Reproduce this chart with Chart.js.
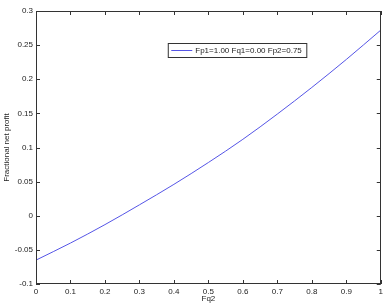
<!DOCTYPE html>
<html>
<head>
<meta charset="utf-8">
<script src="https://cdn.jsdelivr.net/npm/chart.js@4"></script>
<style>
  html, body { margin: 0; padding: 0; background: #fff; }
  #chart { display: block; }
</style>
</head>
<body>
<canvas id="chart" width="386" height="305"></canvas>
<script>
const fq2 = [0, 0.1, 0.2, 0.3, 0.4, 0.5, 0.6, 0.7, 0.8, 0.9, 1.0];
const netProfit = [-0.065, -0.040, -0.013, 0.016, 0.046, 0.078, 0.112, 0.149, 0.188, 0.229, 0.272];
const seriesLabel = 'Fp1=1.00 Fq1=0.00 Fp2=0.75';
const xTitle = 'Fq2';
const yTitle = 'Fractional net profit';

const fontFamily = '"Liberation Sans", Arial, sans-serif';
const inkColor = '#222';

function tidy(v) {
    return String(parseFloat(Number(v).toFixed(2)));
}

// matlab style box with inward ticks + legend box inside the axes
const axesBox = {
    id: 'axesBox',
    afterDraw(chart) {
        const ctx = chart.ctx;
        const area = chart.chartArea;
        const xs = chart.scales.x;
        const ys = chart.scales.y;
        const len = 4;
        ctx.save();
        ctx.strokeStyle = '#333';
        ctx.lineWidth = 1;
        ctx.beginPath();
        xs.ticks.forEach(t => {
            const px = Math.round(xs.getPixelForValue(t.value)) + 0.5;
            ctx.moveTo(px, area.bottom);
            ctx.lineTo(px, area.bottom - len);
            ctx.moveTo(px, area.top);
            ctx.lineTo(px, area.top + len);
        });
        ys.ticks.forEach(t => {
            const py = Math.round(ys.getPixelForValue(t.value)) + 0.5;
            ctx.moveTo(area.left, py);
            ctx.lineTo(area.left + len, py);
            ctx.moveTo(area.right, py);
            ctx.lineTo(area.right - len, py);
        });
        ctx.stroke();
        ctx.strokeRect(Math.round(area.left) + 0.5, Math.round(area.top) + 0.5,
            Math.round(area.right - area.left) - 1, Math.round(area.bottom - area.top) - 1);

        // legend
        const ds = chart.data.datasets[0];
        ctx.font = '8px ' + fontFamily;
        const textW = ctx.measureText(ds.label).width;
        const bx = area.right - 212.5;
        const by = area.top + 32.5;
        const bw = textW + 32;
        const bh = 14;
        ctx.fillStyle = '#fff';
        ctx.fillRect(bx, by, bw, bh);
        ctx.strokeStyle = '#333';
        ctx.strokeRect(bx, by, bw, bh);
        ctx.strokeStyle = ds.borderColor;
        ctx.beginPath();
        ctx.moveTo(bx + 3, by + bh / 2);
        ctx.lineTo(bx + 24, by + bh / 2);
        ctx.stroke();
        ctx.fillStyle = inkColor;
        ctx.textBaseline = 'middle';
        ctx.fillText(ds.label, bx + 27, by + bh / 2 + 0.5);
        ctx.restore();
    }
};

new Chart(document.getElementById('chart'), {
    type: 'line',
    data: {
        datasets: [{
            label: seriesLabel,
            data: fq2.map((x, i) => ({ x: x, y: netProfit[i] })),
            borderColor: 'rgb(85,85,230)',
            borderWidth: 1,
            pointRadius: 0,
            fill: false,
            cubicInterpolationMode: 'monotone'
        }]
    },
    options: {
        responsive: false,
        animation: false,
        layout: { padding: { top: 11, right: 4, left: 0, bottom: 0 } },
        plugins: {
            legend: { display: false },
            tooltip: { enabled: false }
        },
        scales: {
            x: {
                type: 'linear',
                min: 0,
                max: 1,
                afterFit: scale => { scale.height = 21; },
                grid: { display: false, drawTicks: false },
                border: { display: false },
                ticks: {
                    stepSize: 0.1,
                    padding: 3,
                    maxRotation: 0,
                    color: inkColor,
                    font: { family: fontFamily, size: 8 },
                    callback: v => tidy(v)
                },
                title: {
                    display: true,
                    text: xTitle,
                    color: inkColor,
                    padding: { top: 0, bottom: 1 },
                    font: { family: fontFamily, size: 8 }
                }
            },
            y: {
                min: -0.1,
                max: 0.3,
                afterFit: scale => { scale.width = 36; },
                grid: { display: false, drawTicks: false },
                border: { display: false },
                ticks: {
                    stepSize: 0.05,
                    padding: 3,
                    color: inkColor,
                    font: { family: fontFamily, size: 8 },
                    callback: v => tidy(v)
                },
                title: {
                    display: true,
                    text: yTitle,
                    color: inkColor,
                    padding: { top: 2, bottom: 0 },
                    font: { family: fontFamily, size: 8 }
                }
            }
        }
    },
    plugins: [axesBox]
});
</script>
</body>
</html>
